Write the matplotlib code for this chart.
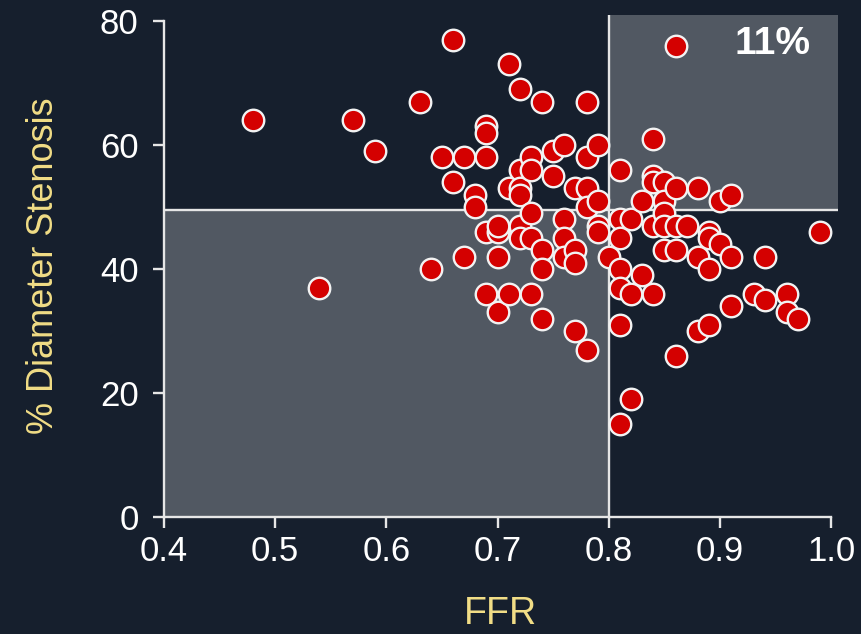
import matplotlib
matplotlib.use("Agg")
import matplotlib.pyplot as plt
from matplotlib.patches import Rectangle

# FFR vs % diameter stenosis
ffr = [0.48, 0.54, 0.57, 0.59, 0.63, 0.64, 0.66, 0.65, 0.66, 0.67,
       0.67, 0.68, 0.68, 0.69, 0.69, 0.69, 0.69, 0.69, 0.70, 0.70,
       0.70, 0.70, 0.71, 0.72, 0.71, 0.71, 0.72, 0.72, 0.72, 0.72,
       0.72, 0.73, 0.73, 0.73, 0.73, 0.73, 0.74, 0.74, 0.74, 0.74,
       0.75, 0.75, 0.76, 0.76, 0.76, 0.76, 0.77, 0.77, 0.77, 0.77,
       0.78, 0.78, 0.78, 0.78, 0.78, 0.79, 0.79, 0.79, 0.79, 0.80,
       0.81, 0.81, 0.81, 0.81, 0.81, 0.81, 0.81, 0.82, 0.82, 0.82,
       0.83, 0.83, 0.84, 0.84, 0.84, 0.84, 0.84, 0.85, 0.85, 0.85,
       0.85, 0.85, 0.86, 0.86, 0.86, 0.86, 0.86, 0.87, 0.88, 0.88,
       0.88, 0.89, 0.89, 0.89, 0.89, 0.90, 0.90, 0.91, 0.91, 0.91,
       0.93, 0.94, 0.94, 0.96, 0.96, 0.97, 0.99]
stenosis = [64, 37, 64, 59, 67, 40, 77, 58, 54, 58,
            42, 52, 50, 63, 62, 58, 46, 36, 46, 47,
            42, 33, 73, 69, 53, 36, 56, 53, 52, 47,
            45, 58, 56, 49, 45, 36, 67, 43, 40, 32,
            59, 55, 60, 48, 45, 42, 53, 43, 41, 30,
            67, 58, 53, 50, 27, 60, 51, 47, 46, 42,
            56, 48, 45, 40, 37, 31, 15, 19, 48, 36,
            39, 51, 61, 55, 54, 47, 36, 54, 51, 49,
            47, 43, 76, 53, 47, 43, 26, 47, 53, 42,
            30, 46, 45, 40, 31, 51, 44, 52, 42, 34,
            36, 35, 42, 36, 33, 32, 46]

ffr_cut = 0.8
ds_cut = 49.5
x_ticks = [0.4, 0.5, 0.6, 0.7, 0.8, 0.9, 1.0]
y_ticks = [0, 20, 40, 60, 80]
mismatch_label = "11%"

bg = "#161f2d"
shade = "#515862"
line_col = "#e6e6e6"

plt.rcParams["font.family"] = ["Liberation Sans", "DejaVu Sans"]

fig = plt.figure(figsize=(8.61, 6.34), dpi=100)
fig.patch.set_facecolor(bg)
ax = fig.add_axes([0.19, 0.1845, 0.7834, 0.7921])
ax.set_facecolor(bg)

x_lo, x_hi = 0.4, 1.006
y_lo, y_hi = 0, 81
ax.set_xlim(x_lo, x_hi)
ax.set_ylim(y_lo, y_hi)

# discordant quadrants
ax.add_patch(Rectangle((x_lo, y_lo), ffr_cut - x_lo, ds_cut - y_lo,
                       facecolor=shade, edgecolor="none", zorder=0))
ax.add_patch(Rectangle((ffr_cut, ds_cut), x_hi - ffr_cut, y_hi - ds_cut,
                       facecolor=shade, edgecolor="none", zorder=0))
ax.plot([ffr_cut, ffr_cut], [y_lo, y_hi], color=line_col, lw=1.7, zorder=1)
ax.plot([x_lo, x_hi], [ds_cut, ds_cut], color=line_col, lw=1.7, zorder=1)

ax.scatter(ffr, stenosis, s=240, color="#d40000", edgecolors="#f2f2f2",
           linewidths=1.7, zorder=3)

ax.text(0.947, 76.3, mismatch_label, color="white", fontsize=28,
        fontweight="bold", ha="center", va="center", zorder=4)

for side in ["top", "right"]:
    ax.spines[side].set_visible(False)
ax.spines["bottom"].set_bounds(0.4, 1.0)
ax.spines["left"].set_bounds(0, 80)
for side in ["bottom", "left"]:
    ax.spines[side].set_color(line_col)
    ax.spines[side].set_linewidth(1.7)

ax.set_xticks(x_ticks)
ax.set_xticklabels([f"{t:.1f}" for t in x_ticks])
ax.set_yticks(y_ticks)
ax.tick_params(axis="both", colors="white", labelsize=25, width=1.7,
               length=8, color=line_col)
ax.tick_params(axis="x", pad=5)
ax.tick_params(axis="y", pad=10)

ax.set_xlabel("FFR", color="#f1dd86", fontsize=27, labelpad=20)
ax.set_ylabel("% Diameter Stenosis", color="#f1dd86", fontsize=26,
              labelpad=28)

fig.savefig("out.png", dpi=100, facecolor=bg)
